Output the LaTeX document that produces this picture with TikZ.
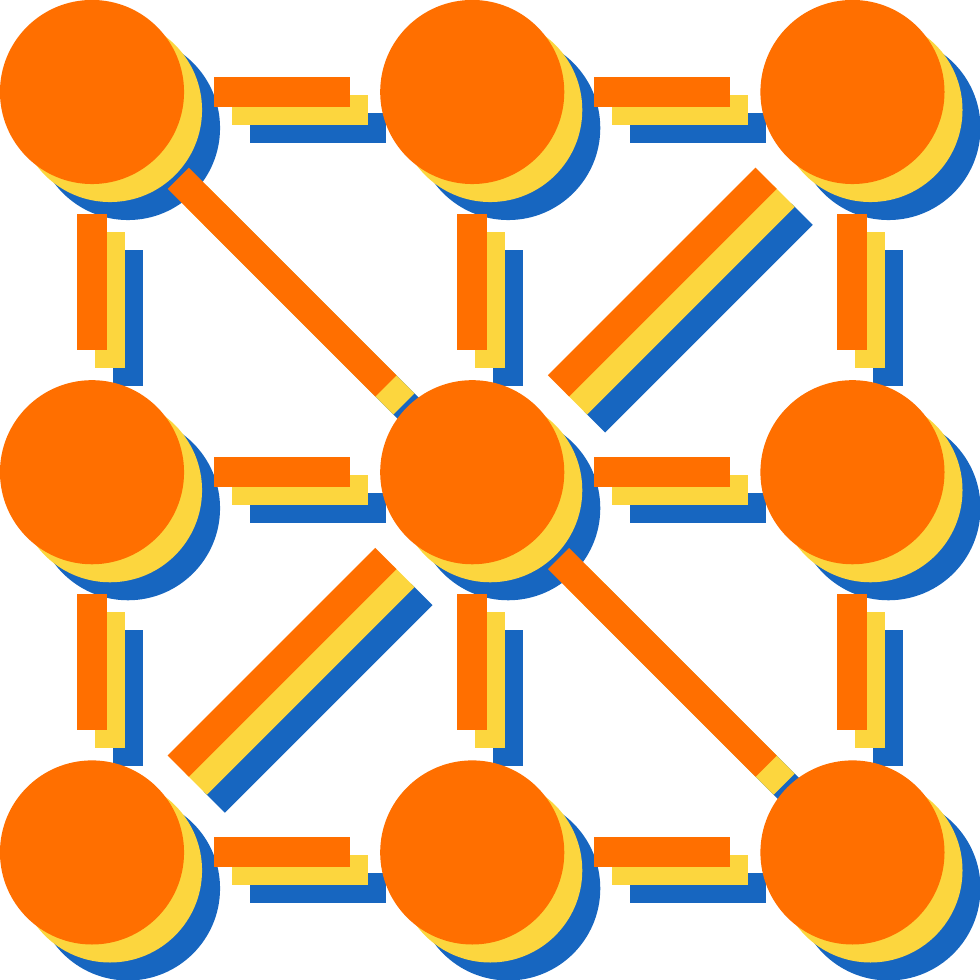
\documentclass[tikz,border=0pt]{standalone}
\usepackage{tikz}
\usetikzlibrary{positioning}
\definecolor{dotorange}{HTML}{FF6F00}
\definecolor{dotyellow}{HTML}{FCD63E}
\definecolor{dotblue}{HTML}{1766C0}

\begin{document}
\begin{tikzpicture}[x=0.01cm, y=-0.01cm, node distance=1.96cm,
  dot/.style = {circle, minimum size=1.84cm, inner sep=0pt, outer sep=0pt},
  bar/.style = {line width=0.3cm, shorten >=0.3cm, shorten <=0.3cm}]
\useasboundingbox (0,0) rectangle (980,980);

% blue, then yellow, then orange on top
\foreach \lay/\d/\c in {b/36/dotblue, y/18/dotyellow, o/0/dotorange} {
\node[dot, fill=\c] (\lay11) at (92+\d,92+\d) {};
\node[dot, fill=\c] (\lay12) [right=of \lay11] {};
\node[dot, fill=\c] (\lay13) [right=of \lay12] {};
\node[dot, fill=\c] (\lay21) [below=of \lay11] {};
\node[dot, fill=\c] (\lay22) [right=of \lay21] {};
\node[dot, fill=\c] (\lay23) [right=of \lay22] {};
\node[dot, fill=\c] (\lay31) [below=of \lay21] {};
\node[dot, fill=\c] (\lay32) [right=of \lay31] {};
\node[dot, fill=\c] (\lay33) [right=of \lay32] {};

\draw[bar, \c] (\lay11) -- (\lay12);
\draw[bar, \c] (\lay12) -- (\lay13);
\draw[bar, \c] (\lay21) -- (\lay22);
\draw[bar, \c] (\lay22) -- (\lay23);
\draw[bar, \c] (\lay31) -- (\lay32);
\draw[bar, \c] (\lay32) -- (\lay33);
\draw[bar, \c] (\lay11) -- (\lay21);
\draw[bar, \c] (\lay21) -- (\lay31);
\draw[bar, \c] (\lay12) -- (\lay22);
\draw[bar, \c] (\lay22) -- (\lay32);
\draw[bar, \c] (\lay13) -- (\lay23);
\draw[bar, \c] (\lay23) -- (\lay33);
\draw[bar, \c] (\lay11) -- (\lay22);
\draw[bar, \c] (\lay22) -- (\lay13);
\draw[bar, \c] (\lay31) -- (\lay22);
\draw[bar, \c] (\lay22) -- (\lay33);
}
\end{tikzpicture}
\end{document}
